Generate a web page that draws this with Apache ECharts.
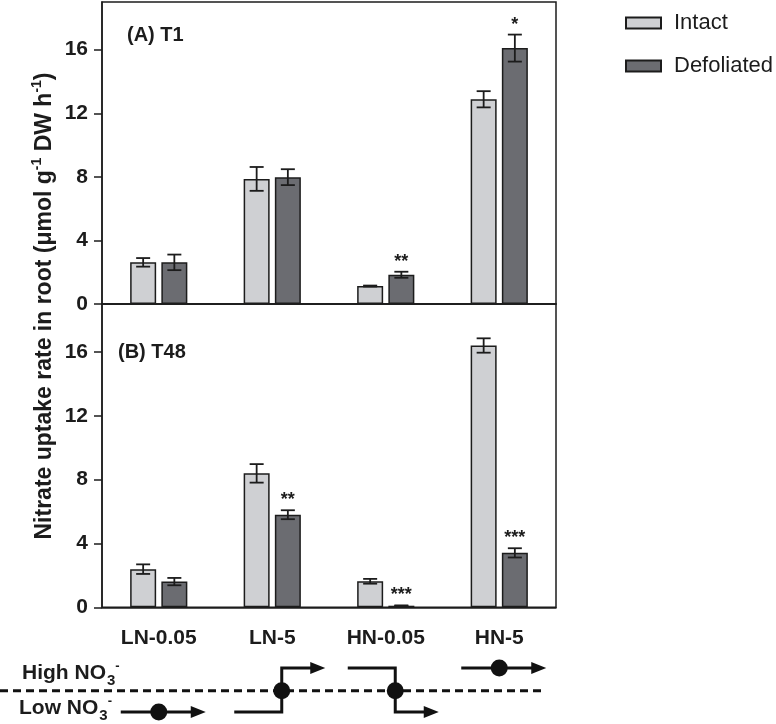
<!DOCTYPE html>
<html><head><meta charset="utf-8">
<script src="https://cdn.jsdelivr.net/npm/echarts@6/dist/echarts.min.js"></script>
<style>html,body{margin:0;padding:0;background:#fff}#c{width:776px;height:724px}</style>
</head><body><div id="c"></div>
<script>
// ---------- data ----------
const categories = ['LN-0.05', 'LN-5', 'HN-0.05', 'HN-5'];
const yTicks = [0, 4, 8, 12, 16];
const seriesNames = ['Intact', 'Defoliated'];
const panelLabels = ['(A) T1', '(B) T48'];

// Panel A: T1
const t1Intact = [2.62, 7.87, 1.13, 12.88];
const t1IntactErr = [0.27, 0.75, 0.03, 0.51];
const t1IntactSig = ['', '', '', ''];
const t1Defol = [2.62, 7.98, 1.84, 16.1];
const t1DefolErr = [0.49, 0.5, 0.19, 0.85];
const t1DefolSig = ['', '', '**', '*'];

// Panel B: T48
const t48Intact = [2.39, 8.39, 1.63, 16.4];
const t48IntactErr = [0.3, 0.58, 0.15, 0.45];
const t48IntactSig = ['', '', '', ''];
const t48Defol = [1.61, 5.8, 0.1, 3.41];
const t48DefolErr = [0.23, 0.28, 0.02, 0.29];
const t48DefolSig = ['', '**', '***', '***'];

// Nitrate regime schematic (before -> after)
const regimeBefore = ['low', 'low', 'high', 'high'];
const regimeAfter = ['low', 'high', 'low', 'high'];

// ---------- styles ----------
const INK = '#1c1c1c';
const C_INTACT = '#cfd0d3';
const C_DEFOL = '#6b6c71';
const BAR_W = 26;
const BAR_GAP = 0.2;
const OFFSET = (BAR_W + BAR_W * BAR_GAP) / 2;
const ARIAL = 'Liberation Sans';

function barSeries(name, gi, data, color) {
  return {
    type: 'bar', name: name, xAxisIndex: gi, yAxisIndex: gi,
    data: data, barWidth: BAR_W, barGap: (BAR_GAP * 100) + '%',
    itemStyle: { color: color, borderColor: INK, borderWidth: 1.5 },
    z: 2
  };
}
function errSeries(name, gi, vals, errs, sig, offset) {
  return {
    type: 'custom', name: name + ' err', xAxisIndex: gi, yAxisIndex: gi, z: 5,
    data: vals.map((v, i) => [i, v, errs[i]]),
    renderItem: function (params, api) {
      const i = api.value(0), v = api.value(1), e = api.value(2);
      const s = sig[params.dataIndex];
      const top = api.coord([i, v + e]);
      const bot = api.coord([i, Math.max(0, v - e)]);
      const x = top[0] + offset;
      const hw = 7;
      const st = { stroke: INK, lineWidth: 1.8 };
      const ch = [
        { type: 'line', shape: { x1: x, y1: top[1], x2: x, y2: bot[1] }, style: st },
        { type: 'line', shape: { x1: x - hw, y1: top[1], x2: x + hw, y2: top[1] }, style: st },
        { type: 'line', shape: { x1: x - hw, y1: bot[1], x2: x + hw, y2: bot[1] }, style: st }
      ];
      if (s) {
        ch.push({ type: 'text', x: x, y: top[1] - 1,
          style: { text: s, textAlign: 'center', textVerticalAlign: 'bottom',
            font: 'bold 18px "Liberation Sans"', fill: INK } });
      }
      return { type: 'group', children: ch };
    }
  };
}

const chart = echarts.init(document.getElementById('c'), null, { renderer: 'canvas' });

const yAxisCommon = {
  type: 'value', min: 0, max: 19,
  axisLine: { show: true, lineStyle: { color: INK, width: 1.5 } },
  axisTick: { show: true, length: 8, lineStyle: { color: INK, width: 1.5 }, customValues: yTicks },
  axisLabel: { customValues: yTicks, margin: 14, fontFamily: ARIAL, fontWeight: 'bold', fontSize: 21, color: INK },
  splitLine: { show: false }
};

const option = {
  animation: false,
  backgroundColor: '#fff',
  title: [
    { text: panelLabels[0], left: 127, top: 25, padding: 0,
      textStyle: { fontFamily: ARIAL, fontWeight: 'bold', fontSize: 20, color: INK } },
    { text: panelLabels[1], left: 118, top: 342, padding: 0,
      textStyle: { fontFamily: ARIAL, fontWeight: 'bold', fontSize: 20, color: INK } }
  ],
  legend: {
    data: seriesNames, orient: 'vertical', left: 620, top: 7,
    itemWidth: 35, itemHeight: 11, itemGap: 21, icon: 'rect',
    textStyle: { fontFamily: ARIAL, fontSize: 22, color: INK, padding: [0, 0, 0, 8] }
  },
  grid: [
    { left: 102, top: 2, width: 454, height: 302, show: true, borderColor: INK, borderWidth: 1.5 },
    { left: 102, top: 304, width: 454, height: 303.3, show: true, borderColor: INK, borderWidth: 1.5 },
    { left: 102, top: 73, width: 454, height: 466, show: false }
  ],
  xAxis: [
    { type: 'category', gridIndex: 0, data: categories,
      axisLine: { lineStyle: { color: INK, width: 1.5 } },
      axisTick: { inside: true, length: 9, alignWithLabel: true, lineStyle: { color: INK, width: 1.5 } },
      axisLabel: { show: false } },
    { type: 'category', gridIndex: 1, data: categories,
      axisLine: { lineStyle: { color: INK, width: 1.5 } },
      axisTick: { inside: false, length: 7, alignWithLabel: true, lineStyle: { color: INK, width: 1.5 } },
      axisLabel: { margin: 20, fontFamily: ARIAL, fontWeight: 'bold', fontSize: 21, color: INK } },
    { type: 'value', gridIndex: 2, show: false }
  ],
  yAxis: [
    Object.assign({ gridIndex: 0 }, yAxisCommon),
    Object.assign({ gridIndex: 1 }, yAxisCommon),
    { type: 'value', gridIndex: 2, min: 0, max: 1,
      axisLine: { show: false }, axisTick: { show: false }, axisLabel: { show: false }, splitLine: { show: false },
      name: 'Nitrate uptake rate in root (μmol g{s|-1} DW h{s|-1})',
      nameLocation: 'middle', nameRotate: 90, nameGap: 42,
      nameTextStyle: { fontFamily: ARIAL, fontWeight: 'bold', fontSize: 23, color: INK, lineHeight: 30,
        rich: { s: { fontFamily: ARIAL, fontWeight: 'bold', fontSize: 14, lineHeight: 14, verticalAlign: 'top', color: INK } } } }
  ],
  series: [
    barSeries(seriesNames[0], 0, t1Intact, C_INTACT),
    barSeries(seriesNames[1], 0, t1Defol, C_DEFOL),
    barSeries(seriesNames[0], 1, t48Intact, C_INTACT),
    barSeries(seriesNames[1], 1, t48Defol, C_DEFOL),
    errSeries(seriesNames[0], 0, t1Intact, t1IntactErr, t1IntactSig, -OFFSET),
    errSeries(seriesNames[1], 0, t1Defol, t1DefolErr, t1DefolSig, OFFSET),
    errSeries(seriesNames[0], 1, t48Intact, t48IntactErr, t48IntactSig, -OFFSET),
    errSeries(seriesNames[1], 1, t48Defol, t48DefolErr, t48DefolSig, OFFSET)
  ]
};
chart.setOption(option);

// ---------- nitrate regime schematic ----------
const yHigh = 668, yLow = 712, yMid = 690.7;
const lineSt = { stroke: '#111', lineWidth: 3, fill: null };
const g = [];
g.push({ type: 'line', shape: { x1: 0, y1: yMid, x2: 545, y2: yMid },
  style: { stroke: '#111', lineWidth: 3, lineDash: [8, 5] } });
const labRich = {
  b: { fontFamily: ARIAL, fontWeight: 'bold', fontSize: 15, verticalAlign: 'bottom', padding: [0, 0, 0, 1], fill: INK },
  p: { fontFamily: ARIAL, fontWeight: 'bold', fontSize: 13, verticalAlign: 'middle', padding: [0, 0, 14, 0], fill: INK }
};
g.push({ type: 'text', x: 22, y: 673,
  style: { text: 'High NO{b|3}{p|-}', rich: labRich, fontFamily: ARIAL, fontWeight: 'bold', fontSize: 21,
    lineHeight: 30, fill: INK, textVerticalAlign: 'middle', verticalAlign: 'middle' } });
g.push({ type: 'text', x: 19, y: 708,
  style: { text: 'Low NO{b|3}{p|-}', rich: labRich, fontFamily: ARIAL, fontWeight: 'bold', fontSize: 21,
    lineHeight: 30, fill: INK, textVerticalAlign: 'middle', verticalAlign: 'middle' } });
categories.forEach(function (c, i) {
  const cx = chart.convertToPixel({ xAxisIndex: 1 }, c);
  const y0 = regimeBefore[i] === 'high' ? yHigh : yLow;
  const y1 = regimeAfter[i] === 'high' ? yHigh : yLow;
  const sw = y0 !== y1;
  const xs = cx - 38, xm = cx + (sw ? 9.5 : 0), xe = cx + (sw ? 53 : 47);
  const pts = sw ? [[xs, y0], [xm, y0], [xm, y1], [xe - 10, y1]] : [[xs, y0], [xe - 10, y0]];
  g.push({ type: 'polyline', shape: { points: pts }, style: lineSt });
  g.push({ type: 'polygon', shape: { points: [[xe - 15, y1 - 6], [xe, y1], [xe - 15, y1 + 6]] }, style: { fill: '#111' } });
  g.push({ type: 'circle', shape: { cx: xm, cy: sw ? yMid : y0, r: 8.5 }, style: { fill: '#111' } });
});
chart.setOption({ graphic: g });
</script></body></html>
